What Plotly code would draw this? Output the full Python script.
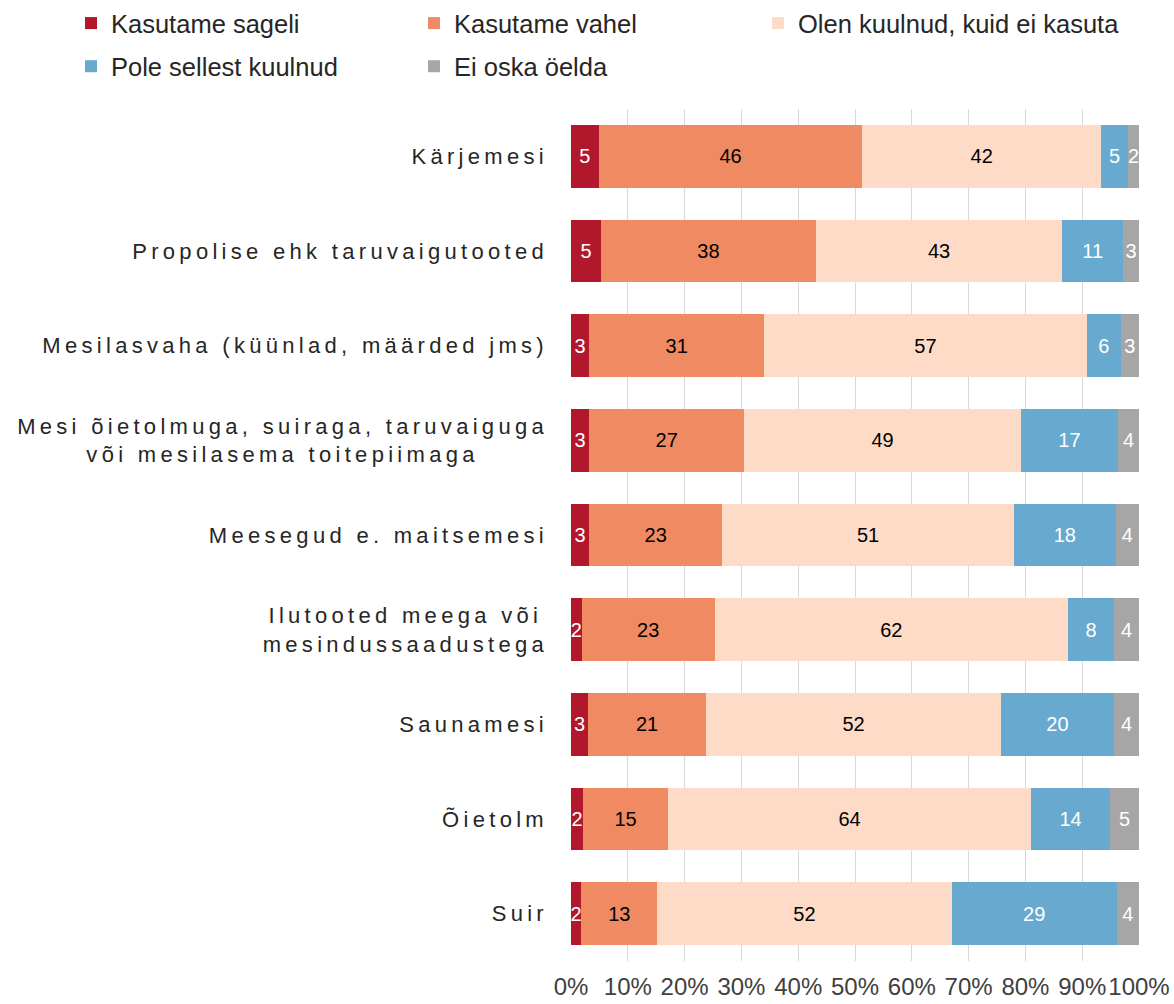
import plotly.graph_objects as go

categories = [
    "Kärjemesi",
    "Propolise ehk taruvaigutooted",
    "Mesilasvaha (küünlad, määrded jms)",
    "Mesi õietolmuga, suiraga, taruvaiguga<br>või mesilasema toitepiimaga",
    "Meesegud e. maitsemesi",
    "Ilutooted meega või<br>mesindussaadustega",
    "Saunamesi",
    "Õietolm",
    "Suir",
]

series_names = [
    "Kasutame sageli",
    "Kasutame vahel",
    "Olen kuulnud, kuid ei kasuta",
    "Pole sellest kuulnud",
    "Ei oska öelda",
]

kasutame_sageli = [4.9, 5.3, 3.2, 3.2, 3.2, 1.9, 3.0, 2.1, 1.8]
kasutame_vahel = [46.4, 37.8, 30.8, 27.3, 23.4, 23.4, 20.8, 15.0, 13.4]
olen_kuulnud = [42.0, 43.4, 56.8, 48.7, 51.4, 62.2, 51.9, 63.9, 51.8]
pole_kuulnud = [4.8, 10.7, 6.0, 17.1, 17.9, 8.1, 19.9, 13.9, 29.1]
ei_oska = [1.9, 2.8, 3.2, 3.7, 4.1, 4.4, 4.4, 5.1, 3.9]

tick_values = [0, 10, 20, 30, 40, 50, 60, 70, 80, 90, 100]
tick_labels = ["0%", "10%", "20%", "30%", "40%", "50%", "60%", "70%", "80%", "90%", "100%"]

series_values = [kasutame_sageli, kasutame_vahel, olen_kuulnud, pole_kuulnud, ei_oska]
colors = ["#B2182B", "#EF8A62", "#FDDBC7", "#67A9CF", "#A6A6A6"]
text_colors = ["#FFFFFF", "#000000", "#000000", "#FFFFFF", "#FFFFFF"]
legend_slots = ["legend", "legend2", "legend3", "legend", "legend2"]

FONT = "Liberation Sans, Arial, sans-serif"

fig = go.Figure()
for i, (name, vals, col, tcol, lg) in enumerate(zip(series_names, series_values, colors, text_colors, legend_slots)):
    fig.add_trace(go.Bar(
        y=categories,
        x=vals,
        name=name,
        orientation="h",
        marker=dict(color=col, line=dict(width=0)),
        texttemplate="%{x:.0f}",
        textposition="inside",
        insidetextanchor="middle",
        textangle=0,
        textfont=dict(family=FONT, size=20, color=tcol),
        hoverinfo="skip",
        legend=lg,
        legendgroup=f"g{i}",
    ))

W, H = 1174, 1004


def legend_cfg(x_px):
    return dict(
        orientation="v",
        xref="container",
        yref="container",
        x=x_px / W,
        y=1 + 6 / H,
        xanchor="left",
        yanchor="top",
        font=dict(family=FONT, size=25.5, color="#262626"),
        traceorder="grouped",
        tracegroupgap=7,
        bgcolor="rgba(0,0,0,0)",
        borderwidth=0,
    )


fig.update_layout(
    width=W,
    height=H,
    barmode="stack",
    bargap=0.335,
    paper_bgcolor="white",
    plot_bgcolor="white",
    font=dict(family=FONT, color="#262626"),
    margin=dict(l=571, r=35, t=109, b=43, autoexpand=False),
    uniformtext=dict(minsize=20, mode="show"),
    showlegend=True,
    legend=legend_cfg(71),
    legend2=legend_cfg(414),
    legend3=legend_cfg(758),
    xaxis=dict(
        range=[0, 100],
        tickmode="array",
        tickvals=tick_values,
        ticktext=tick_labels,
        tickangle=0,
        showgrid=True,
        gridcolor="#D9D9D9",
        gridwidth=1,
        zeroline=False,
        showline=False,
        ticks="",
        ticklabelstandoff=9,
        tickfont=dict(family=FONT, size=24, color="#404040"),
        fixedrange=True,
    ),
    yaxis=dict(
        categoryorder="array",
        categoryarray=categories,
        autorange="reversed",
        showgrid=False,
        zeroline=False,
        showline=False,
        ticks="",
        ticklabelstandoff=22,
        tickfont=dict(family=FONT, size=22, color="#262626"),
        fixedrange=True,
    ),
)

post_js = """
document.body.style.margin = '0';
document.body.style.overflow = 'hidden';
var gd = document.getElementById('{plot_id}');
var texts = gd.querySelectorAll('.ytick text');
texts.forEach(function(t){
  t.style.letterSpacing = '4.3px';
  var lines = t.querySelectorAll('tspan.line');
  if (lines.length > 1) {
    var ws = []; var maxW = 0;
    lines.forEach(function(l){ var w = l.getComputedTextLength(); ws.push(w); if (w > maxW) { maxW = w; } });
    lines.forEach(function(l, i){
      var x = parseFloat(l.getAttribute('x')) || 0;
      l.setAttribute('x', x - (maxW - ws[i]) / 2);
    });
  }
});
"""

fig.write_html("out.html", config={"displayModeBar": False, "staticPlot": True}, post_script=post_js)
